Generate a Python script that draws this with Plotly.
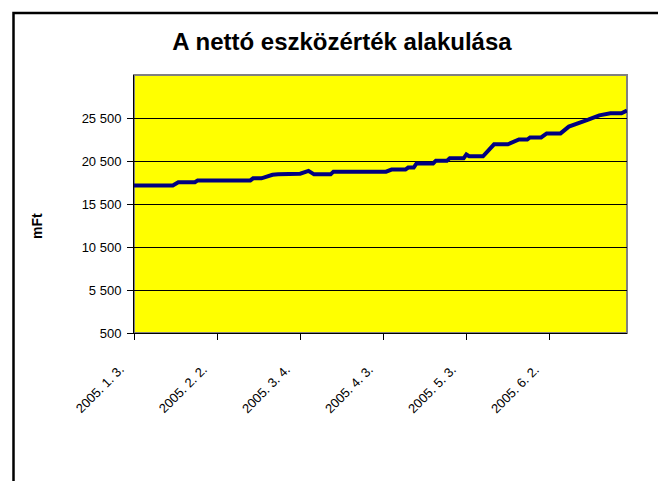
import plotly.graph_objects as go

dates = ["2005-01-03", "2005-01-17", "2005-01-19", "2005-01-25", "2005-01-26",
         "2005-02-14", "2005-02-15", "2005-02-18", "2005-02-22", "2005-02-24",
         "2005-03-04", "2005-03-07", "2005-03-09", "2005-03-15", "2005-03-16",
         "2005-04-04", "2005-04-06", "2005-04-11", "2005-04-12", "2005-04-14",
         "2005-04-15", "2005-04-21", "2005-04-22", "2005-04-26", "2005-04-27",
         "2005-05-02", "2005-05-03", "2005-05-04", "2005-05-09", "2005-05-13",
         "2005-05-18", "2005-05-20", "2005-05-22", "2005-05-25", "2005-05-26",
         "2005-05-30", "2005-06-01", "2005-06-06", "2005-06-09", "2005-06-16",
         "2005-06-20", "2005-06-24", "2005-06-28", "2005-06-30"]
values = [17650, 17650, 18030, 18030, 18240,
          18240, 18480, 18480, 18900, 18950,
          19030, 19350, 18950, 18950, 19260,
          19260, 19500, 19500, 19740, 19740,
          20210, 20210, 20540, 20540, 20810,
          20810, 21250, 21050, 21050, 22440,
          22440, 22710, 23000, 23000, 23240,
          23240, 23710, 23710, 24500, 25300,
          25810, 26050, 26050, 26370]

x_tickvals = ["2005-01-03", "2005-02-02", "2005-03-04", "2005-04-03", "2005-05-03", "2005-06-02"]
x_ticktext = ["2005. 1. 3.", "2005. 2. 2.", "2005. 3. 4.", "2005. 4. 3.", "2005. 5. 3.", "2005. 6. 2."]
y_tickvals = [500, 5500, 10500, 15500, 20500, 25500]
y_ticktext = ["500", "5 500", "10 500", "15 500", "20 500", "25 500"]

FONT = "Liberation Sans, Arial, sans-serif"

OFF = 8
W, H = 666 - OFF, 489 - 2 * OFF
L, R, T, B = 134 - OFF, 627 - OFF, 75 - OFF, 333 - OFF
pw, ph = R - L, B - T

def px(x):
    return (x - OFF - L) / pw

def py(y):
    return (B - (y - OFF)) / ph

fig = go.Figure()
fig.add_trace(go.Scatter(x=dates, y=values, mode="lines",
                         line=dict(color="#000080", width=4), hoverinfo="skip"))

annotations = [
    dict(text="<b>mFt</b>", xref="paper", yref="paper", x=px(37), y=py(226),
         showarrow=False, textangle=-90, xanchor="center", yanchor="middle",
         font=dict(family=FONT, size=14, color="black")),
]
for tv, tt in zip(x_tickvals, x_ticktext):
    annotations.append(dict(text=tt, xref="x", yref="paper", x=tv, y=0,
                            xshift=-35, yshift=-56, showarrow=False, textangle=-45,
                            xanchor="center", yanchor="middle",
                            font=dict(family=FONT, size=13, color="black")))

fig.update_layout(
    width=W, height=H,
    margin=dict(l=L, r=W - R, t=T, b=H - B),
    paper_bgcolor="white",
    plot_bgcolor="#FFFF00",
    showlegend=False,
    font=dict(family=FONT, size=12, color="black"),
    title=dict(text="<b>A nettó eszközérték alakulása</b>", x=px(342), xref="paper",
               y=1 - (42 - OFF) / H, yref="container", xanchor="center", yanchor="middle",
               font=dict(family=FONT, size=24, color="black")),
    xaxis=dict(type="date", range=["2005-01-03", "2005-06-30"],
               tickvals=x_tickvals, showticklabels=False,
               ticks="outside", ticklen=6, tickcolor="black",
               showline=True, linecolor="black", linewidth=1,
               showgrid=False, zeroline=False),
    yaxis=dict(range=[500, 30500], tickvals=y_tickvals, ticktext=y_ticktext,
               ticks="outside", ticklen=6, tickcolor="black",
               showline=True, linecolor="black", linewidth=1,
               showgrid=True, gridcolor="black", gridwidth=1, zeroline=False,
               ticklabelstandoff=3,
               tickfont=dict(family=FONT, size=13, color="black")),
    shapes=[
        dict(type="rect", xref="paper", yref="paper", x0=0, x1=1, y0=0, y1=1,
             line=dict(color="#808080", width=2), layer="below"),
        dict(type="rect", xref="paper", yref="paper",
             x0=px(13.5), x1=px(660), y0=py(500), y1=py(13),
             line=dict(color="black", width=2.5), fillcolor="rgba(0,0,0,0)",
             layer="above"),
    ],
    annotations=annotations,
)

fig.write_html("out.html")
